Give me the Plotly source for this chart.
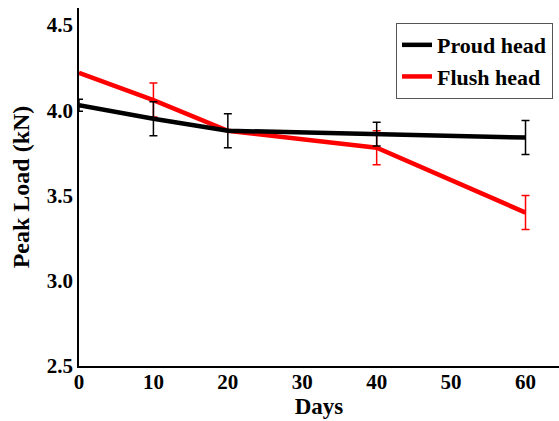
import plotly.graph_objects as go

days = [0, 10, 20, 40, 60]
proud = [4.03, 3.95, 3.88, 3.86, 3.84]
proud_err = [0.035, 0.10, 0.10, 0.07, 0.10]
flush = [4.22, 4.06, 3.88, 3.78, 3.40]
flush_err = [0.0, 0.10, 0.0, 0.10, 0.10]
x_ticks = [0, 10, 20, 30, 40, 50, 60]
y_ticks = [2.5, 3.0, 3.5, 4.0, 4.5]

font = "Liberation Serif"
fig = go.Figure()
fig.add_trace(go.Scatter(
    x=days, y=flush, mode="lines", name="Flush head",
    line=dict(color="#ff0000", width=4.5),
    error_y=dict(type="data", array=flush_err, color="#ff0000", thickness=1.5, width=4),
))
fig.add_trace(go.Scatter(
    x=days, y=proud, mode="lines", name="Proud head",
    line=dict(color="#000000", width=4.5),
    error_y=dict(type="data", array=proud_err, color="#000000", thickness=1.5, width=4),
))
fig.update_layout(
    width=559, height=421,
    margin=dict(l=79, r=0, t=8, b=55),
    paper_bgcolor="white", plot_bgcolor="white",
    font=dict(family=font, color="black"),
    showlegend=True,
    legend=dict(
        x=0.9875, y=0.958, xanchor="right", yanchor="top",
        traceorder="reversed",
        bordercolor="#555555", borderwidth=1, bgcolor="white",
        font=dict(family=font, size=22, color="black", weight="bold"),
        itemwidth=30, tracegroupgap=0,
    ),
)
fig.update_xaxes(
    range=[0, 64.5], tickvals=x_ticks, ticktext=[str(v) for v in x_ticks],
    showgrid=False, zeroline=False, showline=True, linecolor="black", linewidth=1.5,
    ticks="", tickfont=dict(family=font, size=21, weight="bold"), automargin=False,
    ticklabelstandoff=-4,
    title=dict(text="Days", font=dict(family=font, size=23, weight="bold"), standoff=2),
)
fig.update_yaxes(
    range=[2.5, 4.6], tickvals=y_ticks, ticktext=["%.1f" % v for v in y_ticks],
    showgrid=False, zeroline=False, showline=True, linecolor="black", linewidth=1.5,
    ticks="", tickfont=dict(family=font, size=21, weight="bold"), automargin=False,
    title=dict(text="Peak Load (kN)", font=dict(family=font, size=24, weight="bold"), standoff=10),
)
fig.write_html("out.html", config={"displayModeBar": False},
               post_script="document.body.style.margin='0';document.body.style.padding='0';")
